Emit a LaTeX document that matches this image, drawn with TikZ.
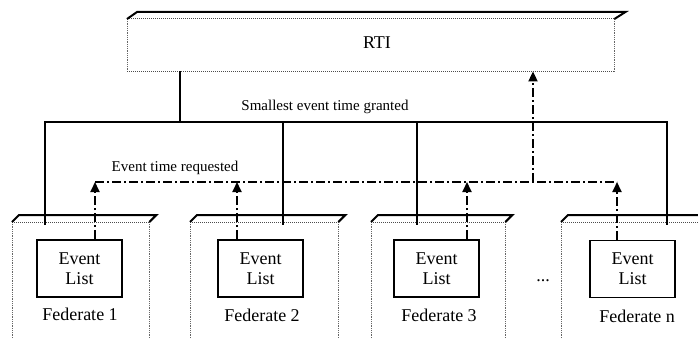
\documentclass[tikz,border=0pt]{standalone}
\usepackage{fontspec}
\setmainfont{Liberation Serif}
\usetikzlibrary{arrows.meta,calc}
\begin{document}
\begin{tikzpicture}[x=1pt,y=-1pt,
  faint/.style={draw=black!60, densely dotted, line width=0.8pt},
  slabtop/.style={draw=black, line width=2pt, line join=miter},
  frontedge/.style={draw=black!70, line width=1pt, densely dotted},
  slab/.style={draw=none, minimum height=117pt, inner sep=0pt, anchor=north west},
  evbox/.style={draw, line width=1.8pt, minimum width=85pt, minimum height=57pt,
    align=center, inner sep=0pt, font=\fontsize{18}{20}\selectfont},
  fedlabel/.style={font=\fontsize{18}{20}\selectfont, inner sep=0pt},
  smalllabel/.style={font=\fontsize{15}{17}\selectfont, inner sep=0pt},
  bus/.style={line width=2.2pt},
  req/.style={line width=1.8pt, dash pattern=on 9pt off 3pt on 2pt off 3pt},
  tip/.style={-{Triangle[length=10pt,width=9pt]}}
]
\useasboundingbox (0,0) rectangle (698,339);
\fill[white] (0,0) rectangle (698,339);

% RTI slab
\node[draw=none, minimum width=487pt, minimum height=52pt, inner sep=0pt, anchor=north west] (rti) at (127,19) {};
\node[font=\fontsize{18}{20}\selectfont, inner sep=0pt] (rtilabel) at (377,43) {RTI};
\draw[faint] (rti.north west) -- (rti.south west);
\draw[faint] (rti.north east) -- (rti.south east);
\draw[frontedge] (rti.south west) -- (rti.south east);
\draw[frontedge] (rti.north west) -- (rti.north east);
\draw[slabtop] (rti.north west) -- ++(10,-7) -- ($(rti.north east)+(11,-7)$) -- (rti.north east);

% Federate slabs
\node[slab, minimum width=137pt] (s1) at (12,222) {};
\node[slab, minimum width=148pt] (s2) at (190,222) {};
\node[slab, minimum width=134pt] (s3) at (371,222) {};
\node[slab, minimum width=144pt] (s4) at (561,222) {};
\foreach \s in {s1,s2,s3,s4}{
  \draw[faint] (\s.north west) -- (\s.south west);
  \draw[faint] (\s.north east) -- (\s.south east);
  \draw[frontedge] (\s.north west) -- (\s.north east);
  \draw[slabtop] (\s.north west) -- ++(7,-7) -- ($(\s.north east)+(7,-7)$) -- (\s.north east);
}

% Event lists
\node[evbox] (e1) at (79.5,268.5) {Event\\List};
\node[evbox] (e2) at (260.5,268.5) {Event\\List};
\node[evbox] (e3) at (436.5,268.5) {Event\\List};
\node[evbox] (e4) at (632.5,269) {Event\\List};

\node[fedlabel] (f1) at (80,314) {Federate 1};
\node[fedlabel] (f2) at (262,315) {Federate 2};
\node[fedlabel] (f3) at (439,315) {Federate 3};
\node[fedlabel] (f4) at (637,316) {Federate n};
\node[fedlabel] (dots) at (543,281) {...};

% Grant bus
\coordinate (j0) at (180,122);
\coordinate (b1) at (45,122);
\coordinate (b2) at (283,122);
\coordinate (b3) at (417,122);
\coordinate (b4) at (667,122);
\draw[bus] (rti.south -| j0) -- (j0);
\draw[bus] ($(s1.north -| b1)+(0,3)$) -- (b1) -- (b4) -- ($(s4.north -| b4)+(0,3)$);
\draw[bus] (b2) -- ($(s2.north -| b2)+(0,3)$);
\draw[bus] (b3) -- ($(s3.north -| b3)+(0,3)$);
\node[smalllabel] (grant) at (325,107) {Smallest event time granted};

% Requests
\coordinate (r1) at (95,182);
\coordinate (r2) at (237,182);
\coordinate (r3) at (467,182);
\coordinate (r4) at (617,182);
\coordinate (rr) at (533,182);
\draw[req] (r1) -- (r4);
\draw[req,tip] (e1.north -| r1) -- (r1);
\draw[req,tip] (e2.north -| r2) -- (r2);
\draw[req,tip] (e3.north -| r3) -- (r3);
\draw[req,tip] (e4.north -| r4) -- (r4);
\draw[req,tip] (rr) -- (rti.south -| rr);
\node[smalllabel] (reqlabel) at (175,168) {Event time requested};
\end{tikzpicture}
\end{document}
